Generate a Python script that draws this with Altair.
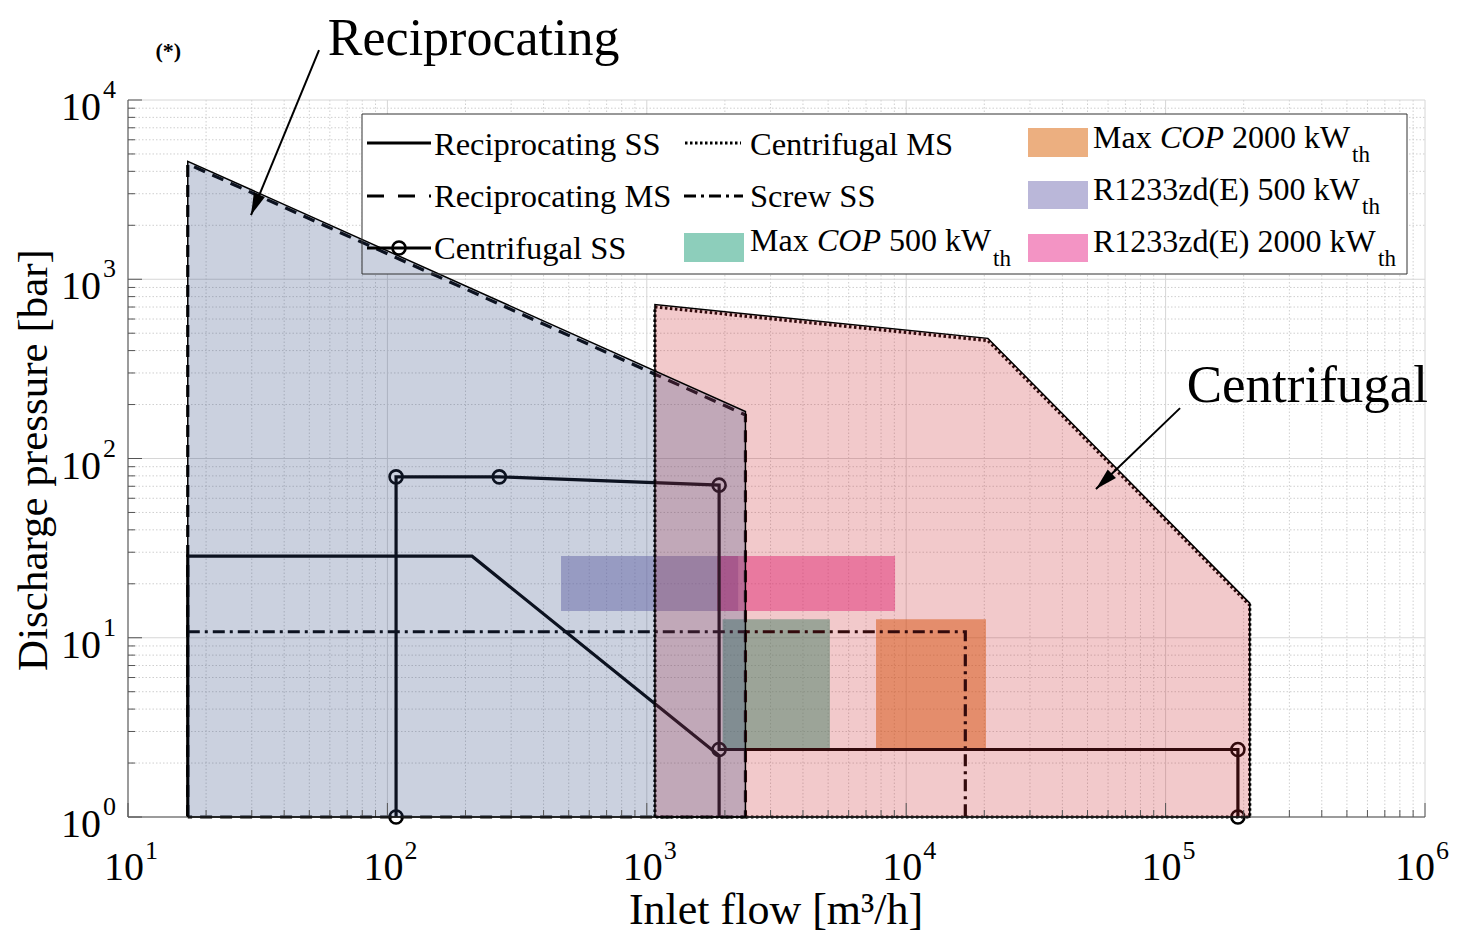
import math
import altair as alt
import pandas as pd

FONT = "Liberation Serif"
W, H = 1297, 717
PAD = {"left": 120, "top": 92, "right": 24, "bottom": 118}

# ---------------- axis ticks ----------------
x_major = [1e1, 1e2, 1e3, 1e4, 1e5, 1e6]
x_major_exp = ["1", "2", "3", "4", "5", "6"]
y_major = [1e0, 1e1, 1e2, 1e3, 1e4]
y_major_exp = ["0", "1", "2", "3", "4"]
minor_mult = [2, 3, 4, 5, 6, 7, 8, 9]
x_minor = [m * d for d in x_major[:-1] for m in minor_mult]
y_minor = [m * d for d in y_major[:-1] for m in minor_mult]

# ---------------- envelopes ----------------
recip_x = [17, 17, 2400, 2400, 17]
recip_ms_y = [1, 4400, 175, 1, 1]
recip_edge_y = [1, 4550, 183, 1, 1]

centr_x = [1075, 1075, 20650, 211000, 211000, 1075]
centr_ms_y = [1, 700, 455, 15.2, 1, 1]
centr_edge_y = [1, 722, 468, 15.6, 1, 1]

recip_ss_x = [17, 17, 212, 1900, 1900]
recip_ss_y = [1, 28.5, 28.5, 2.2, 1]

screw_x = [17, 16900, 16900]
screw_y = [10.8, 10.8, 1]

centr_ss_x = [108, 108, 270, 1900, 1900, 190000, 190000]
centr_ss_y = [1, 79, 79, 71, 2.38, 2.38, 1]

# ---------------- operating boxes ----------------
rect_names = ["Max COP 500", "Max COP 2000", "R1233zd(E) 500", "R1233zd(E) 2000"]
rect_x1 = [1960, 7650, 467, 1870]
rect_x2 = [5080, 20300, 2250, 9060]
rect_y1 = [2.4, 2.4, 14.1, 14.1]
rect_y2 = [12.7, 12.7, 28.6, 28.6]
rect_colors = ["#1b9e77", "#d95f02", "#7570b3", "#e7298a"]

# ---------------- annotations ----------------
ann_text = ["Reciprocating", "Centrifugal", "(*)"]
ann_x = [215, 352000, 14.3]
ann_y = [17830, 207, 17100]
arrow_x1 = [54.5, 113700]
arrow_y1 = [19000, 191]
arrow_x2 = [29.8, 53900]
arrow_y2 = [2282, 67.6]

xs = alt.Scale(type="log", domain=[10, 1e6], nice=False)
ys = alt.Scale(type="log", domain=[1, 1e4], nice=False)


def X(f):
    return alt.X(f, type="quantitative", scale=xs, axis=None)


def Y(f):
    return alt.Y(f, type="quantitative", scale=ys, axis=None)


one = pd.DataFrame({"k": [0]})
layers = []


def vgrid(vals, color, dash=None):
    kw = dict(color=color, strokeWidth=1)
    if dash:
        kw["strokeDash"] = dash
    return alt.Chart(pd.DataFrame({"v": vals})).mark_rule(**kw).encode(
        x=X("v"), y=alt.value(0), y2=alt.value(H))


def hgrid(vals, color, dash=None):
    kw = dict(color=color, strokeWidth=1)
    if dash:
        kw["strokeDash"] = dash
    return alt.Chart(pd.DataFrame({"v": vals})).mark_rule(**kw).encode(
        y=Y("v"), x=alt.value(0), x2=alt.value(W))


layers += [vgrid(x_minor, "#cfcfcf", [1.5, 2]), hgrid(y_minor, "#cfcfcf", [1.5, 2]),
           vgrid(x_major, "#d6d6d6"), hgrid(y_major, "#d6d6d6")]

# legend background
layers.append(alt.Chart(one).mark_rect(fill="white", opacity=1).encode(
    x=alt.value(234), x2=alt.value(1279), y=alt.value(14), y2=alt.value(174)))

# operating boxes
rect_df = pd.DataFrame({"name": rect_names, "x1": rect_x1, "x2": rect_x2,
                        "y1": rect_y1, "y2": rect_y2, "c": rect_colors})
layers.append(alt.Chart(rect_df).mark_rect(opacity=1, fillOpacity=0.5).encode(
    x=X("x1"), x2="x2", y=Y("y1"), y2="y2", fill=alt.Fill("c:N", scale=None)))


def path(xv, yv, width=3.2, dash=None):
    df = pd.DataFrame({"x": xv, "y": yv, "i": list(range(len(xv)))})
    kw = dict(color="black", strokeWidth=width, opacity=1)
    if dash:
        kw["strokeDash"] = dash
    return alt.Chart(df).mark_line(**kw).encode(x=X("x"), y=Y("y"), order=alt.Order("i:Q"))


DASH = [12, 8]
DOT = [2.5, 2.5]
DASHDOT = [12, 5, 3, 5]

layers.append(path(recip_x, recip_ms_y, 3.2, DASH))
layers.append(path(centr_x, centr_ms_y, 3.2, DOT))
layers.append(path(screw_x, screw_y, 3.2, DASHDOT))
layers.append(path(recip_ss_x, recip_ss_y, 3.2))
layers.append(path(centr_ss_x, centr_ss_y, 3.2))
layers.append(alt.Chart(pd.DataFrame({"x": centr_ss_x, "y": centr_ss_y})).mark_point(
    shape="circle", filled=False, size=170, strokeWidth=2.6, color="black", opacity=1).encode(
    x=X("x"), y=Y("y")))


def area(xv, yv, color):
    df = pd.DataFrame({"x": xv[1:-2] if len(xv) > 5 else xv[1:3],
                       "y": yv[1:-2] if len(yv) > 5 else yv[1:3]})
    df["b"] = 1
    return alt.Chart(df).mark_area(fill=color, fillOpacity=0.25, opacity=1).encode(
        x=X("x"), y=Y("y"), y2="b")


layers.append(area(centr_x, centr_edge_y, "#cb272f"))
layers.append(area(recip_x, recip_edge_y, "#2f477f"))

# axes lines and ticks
layers.append(alt.Chart(one).mark_rule(color="#808080", strokeWidth=1.5).encode(
    x=alt.value(0), y=alt.value(0), y2=alt.value(H)))
layers.append(alt.Chart(one).mark_rule(color="#808080", strokeWidth=1.5).encode(
    y=alt.value(H), x=alt.value(0), x2=alt.value(W)))
for vals, ln in [(x_major, 14), (x_minor, 7)]:
    layers.append(alt.Chart(pd.DataFrame({"v": vals})).mark_rule(color="#555555", strokeWidth=1).encode(
        x=X("v"), y=alt.value(H), y2=alt.value(H - ln)))
for vals, ln in [(y_major, 14), (y_minor, 7)]:
    layers.append(alt.Chart(pd.DataFrame({"v": vals})).mark_rule(color="#555555", strokeWidth=1).encode(
        y=Y("v"), x=alt.value(0), x2=alt.value(ln)))

# envelope outlines
layers.append(path(centr_x, centr_edge_y, 1.5))
layers.append(path(recip_x, recip_edge_y, 1.5))

# tick labels
xl = pd.DataFrame({"v": x_major, "e": x_major_exp})
xl_in, xl_last = xl.iloc[:-1], xl.iloc[-1:]
for df, d10, dexp in [(xl_in, -4, 17), (xl_last, -10, 11)]:
    layers.append(alt.Chart(df).mark_text(text="10", font=FONT, fontSize=40, align="center",
                                          baseline="alphabetic", dx=d10, color="black").encode(
        x=X("v"), y=alt.value(H + 63)))
    layers.append(alt.Chart(df).mark_text(font=FONT, fontSize=26, align="left",
                                          baseline="alphabetic", dx=dexp, color="black").encode(
        x=X("v"), y=alt.value(H + 42), text=alt.Text("e:N")))
yl = pd.DataFrame({"v": y_major, "e": y_major_exp})
layers.append(alt.Chart(yl).mark_text(text="10", font=FONT, fontSize=40, align="right",
                                      baseline="alphabetic", dy=20, color="black").encode(
    y=Y("v"), x=alt.value(-27)))
layers.append(alt.Chart(yl).mark_text(font=FONT, fontSize=26, align="left",
                                      baseline="alphabetic", dy=-2, color="black").encode(
    y=Y("v"), x=alt.value(-25), text=alt.Text("e:N")))


def label(s, x, y, size=32, style="normal", weight="normal", align="left", angle=0):
    kw = dict(text=s, font=FONT, fontSize=size, fontStyle=style, fontWeight=weight,
              align=align, baseline="alphabetic", color="black")
    if angle:
        kw["angle"] = angle
    return alt.Chart(one).mark_text(**kw).encode(x=alt.value(x), y=alt.value(y))


# axis titles
layers.append(label("Inlet flow [m³/h]", 648, 824, size=44, align="center"))
layers.append(label("Discharge pressure [bar]", -81, 360, size=43, align="center", angle=270))


def leg_line(x1, x2, y, dash=None, width=3.2):
    kw = dict(color="black", strokeWidth=width)
    if dash:
        kw["strokeDash"] = dash
    return alt.Chart(one).mark_rule(**kw).encode(x=alt.value(x1), x2=alt.value(x2), y=alt.value(y))


def swatch(x1, x2, y1, y2, color):
    return alt.Chart(one).mark_rect(fill=color, fillOpacity=0.5, opacity=1).encode(
        x=alt.value(x1), x2=alt.value(x2), y=alt.value(y1), y2=alt.value(y2))


layers.append(alt.Chart(one).mark_rect(fill="white", fillOpacity=0, stroke="#333333",
                                       strokeWidth=1, opacity=1).encode(
    x=alt.value(234), x2=alt.value(1279), y=alt.value(14), y2=alt.value(174)))
layers += [leg_line(239, 303, 43), leg_line(239, 303, 96, [17, 14]), leg_line(239, 303, 148),
           alt.Chart(one).mark_point(shape="circle", filled=False, size=170, strokeWidth=2.6,
                                     color="black", opacity=1).encode(x=alt.value(271), y=alt.value(148)),
           leg_line(557, 613, 43, DOT), leg_line(556, 615, 96, DASHDOT),
           swatch(556, 616, 133, 162, rect_colors[0]),
           swatch(900, 960, 28, 57, rect_colors[1]),
           swatch(900, 960, 81, 109, rect_colors[2]),
           swatch(900, 960, 134, 162, rect_colors[3])]
layers += [label("Reciprocating SS", 306, 55, size=32.5), label("Reciprocating MS", 306, 107, size=32.5),
           label("Centrifugal SS", 306, 159, size=32.5),
           label("Centrifugal MS", 622, 55, size=32.5), label("Screw SS", 622, 107, size=32.5),
           label("Max", 622, 151), label("COP", 689, 151, style="italic"),
           label("500 kW", 761, 151), label("th", 865, 166, size=23),
           label("Max", 965, 48), label("COP", 1032, 48, style="italic"),
           label("2000 kW", 1104, 48), label("th", 1224, 62, size=23),
           label("R1233zd(E) 500 kW", 965, 100), label("th", 1234, 114, size=23),
           label("R1233zd(E) 2000 kW", 965, 152), label("th", 1250, 166, size=23)]

# annotations
ann_df = pd.DataFrame({"t": ann_text, "x": ann_x, "y": ann_y})
layers.append(alt.Chart(ann_df.iloc[:1]).mark_text(font=FONT, fontSize=52, align="center",
                                                   baseline="alphabetic", color="black").encode(
    x=X("x"), y=Y("y"), text="t:N"))
layers.append(alt.Chart(ann_df.iloc[1:2]).mark_text(font=FONT, fontSize=53, align="center",
                                                    baseline="alphabetic", color="black").encode(
    x=X("x"), y=Y("y"), text="t:N"))
layers.append(alt.Chart(ann_df.iloc[2:]).mark_text(font=FONT, fontSize=22, fontWeight="bold",
                                                   align="center", baseline="alphabetic",
                                                   color="black").encode(
    x=X("x"), y=Y("y"), text="t:N"))
arr_df = pd.DataFrame({"x1": arrow_x1, "y1": arrow_y1, "x2": arrow_x2, "y2": arrow_y2})
layers.append(alt.Chart(arr_df).mark_rule(color="black", strokeWidth=2).encode(
    x=X("x1"), y=Y("y1"), x2="x2", y2="y2"))
for i in range(len(arrow_x1)):
    dx = (math.log10(arrow_x2[i]) - math.log10(arrow_x1[i])) * W / 5
    dy = -(math.log10(arrow_y2[i]) - math.log10(arrow_y1[i])) * H / 4
    ang = (math.degrees(math.atan2(dx, -dy)) + 360) % 360
    layers.append(alt.Chart(arr_df.iloc[i:i + 1]).mark_point(
        shape="M0,0L0.27,1L-0.27,1Z", filled=True, color="black", opacity=1,
        size=1936, angle=ang).encode(x=X("x2"), y=Y("y2")))

chart = alt.layer(*layers).properties(
    width=W, height=H, padding=PAD, autosize=alt.AutoSizeParams(type="none"),
    background="white"
).configure_view(strokeWidth=0)

chart.save("out.html", embed_options={"renderer": "svg", "actions": False})
